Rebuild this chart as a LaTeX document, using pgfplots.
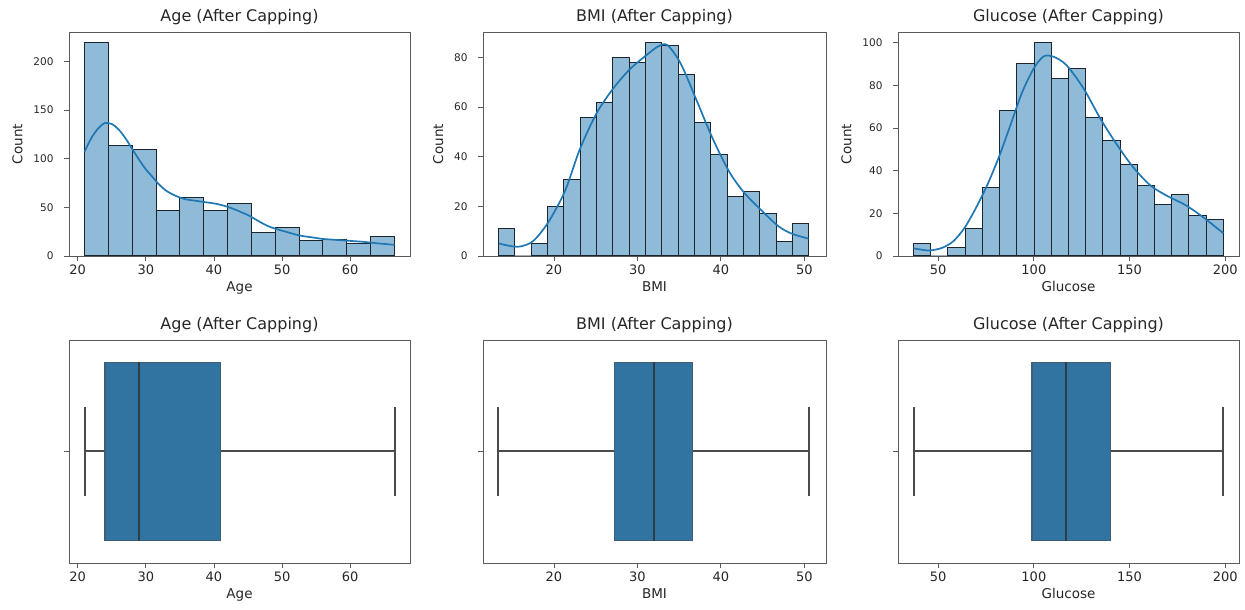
\documentclass[border=0pt]{standalone}
\usepackage{fontspec}
\setmainfont{DejaVu Sans}
\usepackage{pgfplots}
\pgfplotsset{compat=1.18}
\usepgfplotslibrary{statistics}
\definecolor{histfill}{RGB}{143,187,217}
\definecolor{histedge}{RGB}{28,36,46}
\definecolor{kde}{RGB}{31,119,180}
\definecolor{boxfill}{RGB}{50,116,161}
\definecolor{boxline}{RGB}{75,75,75}
\definecolor{frame}{RGB}{90,90,90}
\pgfplotsset{
  base/.style={
    scale only axis, anchor=south west,
    axis on top,
    axis line style={frame, line width=0.9pt},
    tick align=outside, major tick length=5pt,
    tick style={frame, line width=0.8pt},
    xtick pos=left, ytick pos=left,
    /pgf/number format/assume math mode=true,
    /pgf/number format/1000 sep={},
    title style={font=\fontsize{16}{19}\selectfont, yshift=-2pt, text=black!85},
    xlabel style={font=\fontsize{13.5}{16}\selectfont, text=black!85},
    ylabel style={font=\fontsize{13.5}{16}\selectfont, text=black!85, at={(ticklabel cs:0.5,4pt)}},
    xticklabel style={font=\fontsize{13}{15}\selectfont, text=black!85},
    yticklabel style={font=\fontsize{10.5}{12}\selectfont, text=black!85, xshift=-7pt},
  },
  hist/.style={base, width=341pt, height=224pt, ymin=0, ylabel={Count}},
  boxax/.style={base, width=341pt, height=223pt, ymin=-0.5, ymax=0.5, ytick={0}, yticklabels={}},
  histbar/.style={ybar interval, fill=histfill, draw=histedge, line width=1pt},
  kdeline/.style={kde, line width=1.7pt, smooth, tension=0.5},
  bx/.style={boxplot prepared={#1, box extend=0.8, whisker extend=0.4, draw direction=x, draw position=0,
               every box/.style={fill=boxfill, draw=boxline!55!boxfill, line width=1.2pt},
               every whisker/.style={draw=boxline, line width=2pt},
               every median/.style={draw=boxline!70!boxfill!70!black, line width=2pt}},
             fill=boxfill, draw=boxline, line width=2pt},
}
\begin{document}
\begin{tikzpicture}
\useasboundingbox (0,0) rectangle (1245pt,610pt);
% ---------- Age histogram
\begin{axis}[hist, at={(69pt,354pt)}, xmin=18.725, xmax=68.775, ymax=230,
  xtick={20,30,40,50,60}, ytick={0,50,100,150,200},
  title={Age (After Capping)}, xlabel={Age}]
\addplot[histbar] coordinates {(21,219) (24.5,113) (28,109) (31.5,47) (35,60) (38.5,47) (42,54) (45.5,24) (49,29) (52.5,16) (56,17) (59.5,13) (63,20) (66.5,20)};
\addplot[kdeline] coordinates {(21,107) (22,121) (23,131) (24,136.5) (25,135.5) (26,130) (27,121) (28,110) (29,99) (30,89) (31,81) (32,73) (33,67) (34,63) (35,60) (36,58) (37,57) (38,56) (39,55) (40,54) (41,52.5) (42,50.5) (43,48) (44,45) (45,42) (46,38) (47,34) (48,30.5) (49,28) (50,26) (51,24) (52,22) (53,20.5) (54,19.5) (55,18.5) (56,17.5) (58,16.5) (60,15.5) (62,14.5) (64,13) (66.5,11.5)};
\end{axis}
% ---------- BMI histogram
\begin{axis}[hist, at={(483pt,354pt)}, width=343pt, xmin=11.5, xmax=52.6, ymax=90.3,
  xtick={20,30,40,50}, ytick={0,20,40,60,80},
  title={BMI (After Capping)}, xlabel={BMI}]
\addplot[histbar] coordinates {(13.35,11) (15.31,0) (17.27,5) (19.22,20) (21.18,31) (23.14,56) (25.10,62) (27.06,80) (29.01,78) (30.97,86) (32.93,85) (34.89,73) (36.85,54) (38.80,41) (40.76,24) (42.72,26) (44.68,17) (46.64,6) (48.59,13) (50.55,13)};
\addplot[kdeline] coordinates {(13.4,5.1) (14.5,4.2) (15.9,3.8) (17.5,6.0) (19.3,13.5) (21.3,26) (23.1,43) (25.1,57.5) (27.1,67.5) (29.1,75.3) (31.1,81) (32.5,84.5) (33.6,85) (35.2,77.5) (37.0,63.5) (39.0,47.5) (41.0,34) (42.8,25.5) (44.8,18.6) (46.9,12) (48.5,9) (50.5,7)};
\end{axis}
% ---------- Glucose histogram
\begin{axis}[hist, at={(898pt,354pt)}, xmin=29, xmax=207.2, ymax=105,
  xtick={50,100,150,200}, ytick={0,20,40,60,80,100},
  title={Glucose (After Capping)}, xlabel={Glucose}]
\addplot[histbar] coordinates {(37.13,6) (46.12,0) (55.11,4) (64.10,13) (73.10,32) (82.09,68) (91.08,90) (100.08,100) (109.07,83) (118.06,88) (127.06,65) (136.05,54) (145.04,43) (154.04,33) (163.03,24) (172.02,29) (181.01,19) (190.01,17) (199.0,17)};
\addplot[kdeline] coordinates {(37.1,3.6) (45,2.6) (52,3.8) (58,7) (64,13.5) (70,23) (76,34) (82,47) (88,62) (94,77) (100,88) (105,93.5) (110,93.5) (117,89.5) (126,78.5) (135,64) (144,51.4) (152,41.5) (161,33) (170,28) (179,24) (188,18.5) (199,10.7)};
\end{axis}
% ---------- Age boxplot
\begin{axis}[boxax, at={(69pt,47pt)}, xmin=18.725, xmax=68.775,
  xtick={20,30,40,50,60}, title={Age (After Capping)}, xlabel={Age}]
\addplot[bx={lower whisker=21, lower quartile=24, median=29, upper quartile=41, upper whisker=66.5}] coordinates {};
\end{axis}
% ---------- BMI boxplot
\begin{axis}[boxax, at={(483pt,47pt)}, width=343pt, xmin=11.5, xmax=52.6,
  xtick={20,30,40,50}, title={BMI (After Capping)}, xlabel={BMI}]
\addplot[bx={lower whisker=13.35, lower quartile=27.3, median=32.0, upper quartile=36.6, upper whisker=50.55}] coordinates {};
\end{axis}
% ---------- Glucose boxplot
\begin{axis}[boxax, at={(898pt,47pt)}, xmin=29, xmax=207.2,
  xtick={50,100,150,200}, title={Glucose (After Capping)}, xlabel={Glucose}]
\addplot[bx={lower whisker=37.125, lower quartile=99, median=117, upper quartile=140.25, upper whisker=199}] coordinates {};
\end{axis}
\end{tikzpicture}
\end{document}
